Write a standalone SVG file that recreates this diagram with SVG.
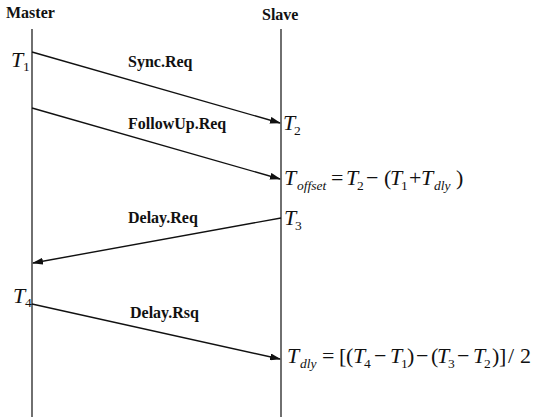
<svg xmlns="http://www.w3.org/2000/svg" width="533" height="417" viewBox="0 0 533 417">
<style>
text{font-family:'Liberation Serif','Times New Roman',Times,'DejaVu Serif',serif;fill:#111}
.lbl{font-weight:bold;font-size:16px}
.m{font-size:22px}
.i{font-style:italic}
.s{font-size:13.5px}
.life{stroke:#222;stroke-width:1.3;fill:none}
.msg{stroke:#111;stroke-width:1.4;fill:none;marker-end:url(#ah)}
</style>
<defs>
<marker id="ah" markerWidth="11" markerHeight="7" refX="10" refY="3.5" orient="auto" markerUnits="userSpaceOnUse">
<path d="M0,0 L11,3.5 L0,7 Z" fill="#111"/>
</marker>
</defs>
<rect width="533" height="417" fill="#fff"/>
<g id="master">
<text class="lbl" x="6" y="18">Master</text>
<line class="life" x1="32" y1="29" x2="32" y2="417"/>
</g>
<g id="slave">
<text class="lbl" x="262" y="20">Slave</text>
<line class="life" x1="281" y1="29" x2="281" y2="417"/>
</g>
<g id="connectors">
<line class="msg" x1="32" y1="52" x2="280" y2="123"/>
<line class="msg" x1="32" y1="108" x2="280" y2="179"/>
<line class="msg" x1="281" y1="218" x2="33" y2="263"/>
<line class="msg" x1="32" y1="304" x2="280" y2="359"/>
</g>
<g id="labels">
<text class="lbl" x="128" y="67">Sync.Req</text>
<text class="lbl" x="128" y="129">FollowUp.Req</text>
<text class="lbl" x="128" y="223">Delay.Req</text>
<text class="lbl" x="130" y="318">Delay.Rsq</text>
</g>
<g id="t1"><text class="m"><tspan class="i" x="11" y="67">T</tspan><tspan class="s" x="23" y="71">1</tspan></text></g>
<g id="t2"><text class="m"><tspan class="i" x="283" y="130">T</tspan><tspan class="s" x="294" y="135">2</tspan></text></g>
<g id="t3"><text class="m"><tspan class="i" x="284" y="225">T</tspan><tspan class="s" x="295" y="230">3</tspan></text></g>
<g id="t4"><text class="m"><tspan class="i" x="13" y="303">T</tspan><tspan class="s" x="25" y="307">4</tspan></text></g>
<g id="eq-offset"><text class="m">
<tspan class="i" x="284" y="185">T</tspan><tspan class="i s" x="297" y="190">offset</tspan>
<tspan x="331" y="185">=</tspan>
<tspan class="i" x="346" y="185">T</tspan><tspan class="s" x="357" y="190">2</tspan>
<tspan x="366" y="185">−</tspan>
<tspan x="384" y="185">(</tspan>
<tspan class="i" x="390" y="185">T</tspan><tspan class="s" x="401" y="190">1</tspan>
<tspan x="409" y="185">+</tspan>
<tspan class="i" x="421" y="185">T</tspan><tspan class="i s" x="434" y="190">dly</tspan>
<tspan x="456" y="185">)</tspan>
</text></g>
<g id="eq-dly"><text class="m">
<tspan class="i" x="287" y="363">T</tspan><tspan class="i s" x="300" y="368">dly</tspan>
<tspan x="322" y="363">=</tspan>
<tspan x="339" y="363">[</tspan>
<tspan x="346" y="363">(</tspan>
<tspan class="i" x="353" y="363">T</tspan><tspan class="s" x="364" y="368">4</tspan>
<tspan x="374" y="363">−</tspan>
<tspan class="i" x="390" y="363">T</tspan><tspan class="s" x="401" y="368">1</tspan>
<tspan x="407" y="363">)</tspan>
<tspan x="416" y="363">−</tspan>
<tspan x="431" y="363">(</tspan>
<tspan class="i" x="437" y="363">T</tspan><tspan class="s" x="448" y="368">3</tspan>
<tspan x="457" y="363">−</tspan>
<tspan class="i" x="473" y="363">T</tspan><tspan class="s" x="484" y="368">2</tspan>
<tspan x="492" y="363">)</tspan>
<tspan x="499" y="363">]</tspan>
<tspan x="508" y="363">/</tspan>
<tspan x="520" y="363">2</tspan>
</text></g>
</svg>
